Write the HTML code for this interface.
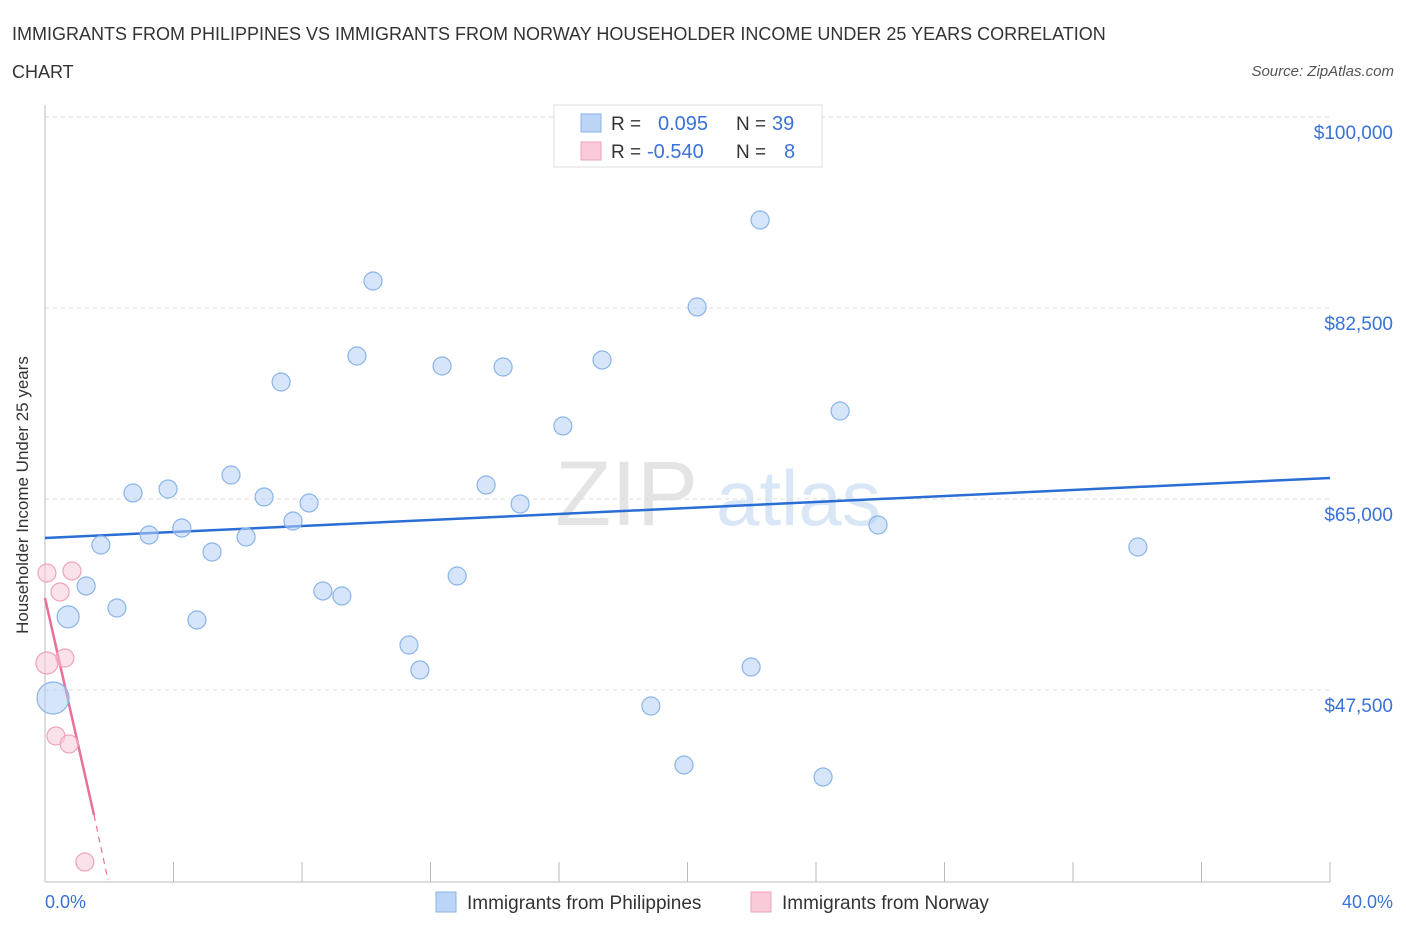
<!DOCTYPE html>
<html><head><meta charset="utf-8"><style>
body{margin:0;background:#fff;font-family:"Liberation Sans",sans-serif;}
svg text{font-family:"Liberation Sans",sans-serif;}
</style></head><body>
<svg id="chart" width="1406" height="930" viewBox="0 0 1406 930" xmlns="http://www.w3.org/2000/svg">
<text x="12" y="40" font-size="18" fill="#333">IMMIGRANTS FROM PHILIPPINES VS IMMIGRANTS FROM NORWAY HOUSEHOLDER INCOME UNDER 25 YEARS CORRELATION</text>
<text x="12" y="78" font-size="18" fill="#333">CHART</text>
<text x="1394" y="76" font-size="15" fill="#555" font-style="italic" text-anchor="end">Source: ZipAtlas.com</text>
<g>
<text x="555" y="525" font-size="92" fill="#e4e4e4" font-family="Liberation Serif">ZIP</text>
<text x="716" y="525" font-size="78" fill="#d8e6f6">atlas</text>
</g>
<g id="grid"></g>
<g id="axes"></g>
<g id="lines"></g>
<g id="points"></g>
<text x="28" y="495" font-size="17" fill="#333" text-anchor="middle" transform="rotate(-90 28 495)">Householder Income Under 25 years</text>
<text x="45" y="908" font-size="18" fill="#3a72d8">0.0%</text>
<text x="1393" y="908" font-size="18" fill="#3a72d8" text-anchor="end">40.0%</text>
<g>
<rect x="554" y="105" width="268" height="62" fill="#fff" stroke="#ddd"/>
<rect x="581" y="114" width="20" height="18" fill="#bcd4f5" stroke="#8ab4e8"/>
<text x="611" y="130" font-size="19" fill="#333">R = </text><text x="658" y="130" font-size="20" fill="#3a72d8">0.095</text>
<text x="736" y="130" font-size="19" fill="#333">N = </text><text x="772" y="130" font-size="20" fill="#3a72d8">39</text>
<rect x="581" y="142" width="20" height="18" fill="#f9cad8" stroke="#eea3bb"/>
<text x="611" y="158" font-size="19" fill="#333">R = </text><text x="647" y="158" font-size="20" fill="#3a72d8">-0.540</text>
<text x="736" y="158" font-size="19" fill="#333">N = </text><text x="784" y="158" font-size="20" fill="#3a72d8">8</text>
</g>
<g>
<rect x="436" y="892" width="20" height="20" fill="#bcd4f5" stroke="#8ab4e8"/>
<text x="467" y="909" font-size="19" fill="#333">Immigrants from Philippines</text>
<rect x="751" y="892" width="20" height="20" fill="#f9cad8" stroke="#eea3bb"/>
<text x="782" y="909" font-size="19" fill="#333">Immigrants from Norway</text>
</g>
</svg>
<script>
const yTicks=[100000,82500,65000,47500];
const yTickLabels=["$100,000","$82,500","$65,000","$47,500"];
const xTicks=[0,4,8,12,16,20,24,28,32,36,40];
const phX=[0.72,1.28,1.74,2.24,2.74,3.24,3.83,4.26,4.73,5.20,5.79,6.26,6.82,7.35,7.72,8.22,8.65,9.24,9.71,10.21,11.33,11.67,12.36,12.83,13.73,14.26,14.79,16.12,17.34,18.86,19.89,20.30,21.98,22.26,24.22,24.75,25.93,34.02,0.25];
const phY=[54200,57030,60785,55013,65550,61700,65916,62343,53914,60144,67199,61518,65183,75720,62984,64634,56571,56113,78102,84974,51623,49332,77186,57945,66283,77094,64542,71689,77736,46034,40628,82592,49607,90563,39529,73063,62618,60602,46767];
const phSize=[11,9,9,9,9,9,9,9,9,9,9,9,9,9,9,9,9,9,9,9,9,9,9,9,9,9,9,9,9,9,9,9,9,9,9,9,9,9,16];
const noX=[0.06,0.84,0.47,0.62,0.06,0.34,0.75,1.24];
const noY=[58220,58403,56479,50432,49974,43285,42552,31741];
const noSize=[9,9,9,9,11,9,9,9];
const phTrend=[[0,61427],[40,66924]];
const noTrend=[[0,55929],[1.525,36047]];
const noTrendDash=[[1.525,36047],[1.96,30093]];
const NS="http://www.w3.org/2000/svg";
const X=v=>45+v/40*1285;
const Y=v=>117+(100000-v)/17500*191;
function mk(parent,tag,attrs){const e=document.createElementNS(NS,tag);for(const k in attrs)e.setAttribute(k,attrs[k]);document.getElementById(parent).appendChild(e);return e;}
yTicks.forEach((t,i)=>{
 const l=mk('grid','line',{x1:45,x2:1330,y1:Y(t),y2:Y(t),stroke:'#ddd','stroke-dasharray':'4 4'});
 
 
 const tx=mk('grid','text',{x:1393,y:Y(t)+22,'font-size':19,fill:'#3a72d8','text-anchor':'end'});
 tx.textContent=yTickLabels[i];
 
 
});
const ya=mk('axes','line',{x1:45,x2:45,y1:105,y2:882,stroke:'#bbb'});


const xa=mk('axes','line',{x1:45,x2:1330,y1:882,y2:882,stroke:'#bbb'});


xTicks.forEach(t=>{
 const l=mk('axes','line',{x1:X(t),x2:X(t),y1:862,y2:882,stroke:'#bbb'});
 
 
});
function line(pts,color,dash,name){
 const l=mk('lines','line',{x1:X(pts[0][0]),y1:Y(pts[0][1]),x2:X(pts[1][0]),y2:Y(pts[1][1]),stroke:color,'stroke-width':dash?1.2:2.5});
 if(dash)l.setAttribute('stroke-dasharray','6 5');
 
 
}
phX.forEach((v,i)=>{
 const c=mk('points','circle',{cx:X(v),cy:Y(phY[i]),r:phSize[i],fill:'rgba(180,208,245,0.55)',stroke:'#8ab4e8','stroke-width':1.2});
 
 
});
noX.forEach((v,i)=>{
 const c=mk('points','circle',{cx:X(v),cy:Y(noY[i]),r:noSize[i],fill:'rgba(248,200,215,0.55)',stroke:'#eea3bb','stroke-width':1.2});
 
 
});
line(phTrend,'#2a6dd4',false,'philippines-trendline');
line(noTrend,'#e8709a',false,'norway-trendline');
line(noTrendDash,'#e8709a',true,'norway-trendline-extension');
</script>
</body></html>
